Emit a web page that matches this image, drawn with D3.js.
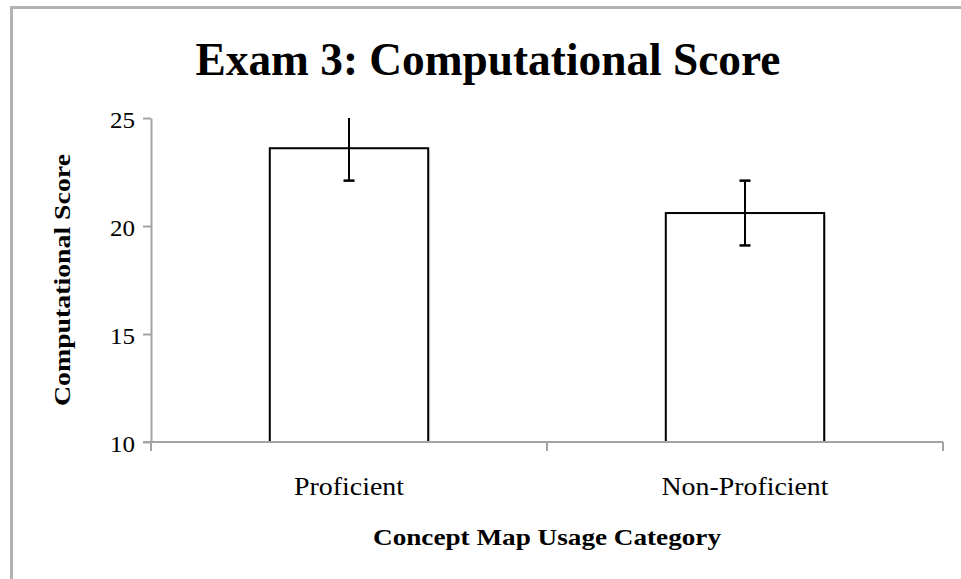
<!DOCTYPE html>
<html lang="en">
<head>
    <meta charset="UTF-8">
    <title>Exam 3: Computational Score</title>
    <script src="https://d3js.org/d3.v7.min.js"></script>
    <style>
        body { margin: 0; background: #fff; }
        svg { display: block; font-family: "Liberation Serif", "DejaVu Serif", serif; }
        .axis path, .axis line { stroke: #a3a3a3; stroke-width: 2px; }
        .axis text { fill: #000; font-size: 23px; font-family: "Liberation Serif", serif; }
        .title { font-size: 46px; font-weight: bold; text-anchor: middle; }
        .axis-label { font-size: 24px; font-weight: bold; text-anchor: middle; }
        .cat-label { font-size: 26px; text-anchor: middle; }
    </style>
</head>
<body>
<svg id="chart" width="961" height="579"></svg>
<script>
    // Data
    const categories = ["Proficient", "Non-Proficient"];
    const means = [23.6, 20.6];
    const errors = [1.5, 1.5];
    const yTicks = [10, 15, 20, 25];

    const svg = d3.select("#chart");
    const margin = { top: 118, right: 18, bottom: 137, left: 151 };
    const width = 961 - margin.left - margin.right;
    const height = 579 - margin.top - margin.bottom;

    // Outer frame
    svg.append("path")
        .attr("d", "M11.5,600 V7.5 H970")
        .attr("fill", "none")
        .attr("stroke", "#b3b3b3")
        .attr("stroke-width", 3);

    const x = d3.scaleBand()
        .domain(categories)
        .range([0, width])
        .paddingInner(0.6)
        .paddingOuter(0.3);

    const y = d3.scaleLinear()
        .domain([10, 25])
        .range([height, 0]);

    const g = svg.append("g")
        .attr("transform", `translate(${margin.left},${margin.top})`);

    svg.append("defs").append("clipPath")
        .attr("id", "plot-clip")
        .append("rect")
        .attr("x", -20).attr("y", 0)
        .attr("width", width + 40).attr("height", height);

    // Title
    svg.append("text")
        .attr("class", "title")
        .attr("x", 488)
        .attr("y", 75)
        .attr("textLength", 585)
        .attr("lengthAdjust", "spacingAndGlyphs")
        .text("Exam 3: Computational Score");

    // Y axis
    const yAxis = g.append("g")
        .attr("class", "axis")
        .call(d3.axisLeft(y).tickValues(yTicks).tickSize(8).tickPadding(8).tickSizeOuter(0));
    yAxis.attr("font-family", null).attr("font-size", null);
    yAxis.selectAll("text")
        .attr("dy", "0.4em")
        .attr("textLength", 25)
        .attr("lengthAdjust", "spacingAndGlyphs");

    // X axis with category boundary ticks
    const xAxis = g.append("g")
        .attr("class", "axis")
        .attr("transform", `translate(0,${height})`);
    xAxis.append("line")
        .attr("x1", -8).attr("x2", width);
    const step = x.step();
    const bounds = [0].concat(categories.map((c, i) => x(c) + x.bandwidth() / 2 + step / 2));
    xAxis.selectAll(".xtick")
        .data(bounds)
        .enter().append("line")
        .attr("class", "xtick")
        .attr("x1", d => d).attr("x2", d => d)
        .attr("y1", 0).attr("y2", 9);

    // Bars (with a light shadow)
    g.selectAll(".shadow")
        .data(categories)
        .enter().append("rect")
        .attr("x", d => x(d) + 2)
        .attr("y", (d, i) => y(means[i]) + 2)
        .attr("width", x.bandwidth())
        .attr("height", (d, i) => height - y(means[i]) - 2)
        .attr("fill", "#e6e6e6");

    g.selectAll(".bar")
        .data(categories)
        .enter().append("rect")
        .attr("class", "bar")
        .attr("x", d => x(d))
        .attr("y", (d, i) => y(means[i]))
        .attr("width", x.bandwidth())
        .attr("height", (d, i) => height - y(means[i]))
        .attr("fill", "#fff")
        .attr("stroke", "#000")
        .attr("stroke-width", 2);

    // Redraw the axis line over the bar bottoms
    g.append("line")
        .attr("x1", 0).attr("x2", width)
        .attr("y1", height).attr("y2", height)
        .attr("stroke", "#a3a3a3").attr("stroke-width", 2);

    // Error bars
    const err = g.append("g").attr("clip-path", "url(#plot-clip)");
    categories.forEach((c, i) => {
        const cx = x(c) + x.bandwidth() / 2;
        const lo = y(means[i] - errors[i]);
        const hi = y(means[i] + errors[i]);
        err.append("line")
            .attr("x1", cx).attr("x2", cx).attr("y1", lo).attr("y2", hi)
            .attr("stroke", "#000").attr("stroke-width", 2);
        [lo, hi].forEach(v => {
            err.append("line")
                .attr("x1", cx - 5.5).attr("x2", cx + 5.5).attr("y1", v).attr("y2", v)
                .attr("stroke", "#000").attr("stroke-width", 2.5);
        });
    });

    // Category labels
    g.selectAll(".cat-label")
        .data(categories)
        .enter().append("text")
        .attr("class", "cat-label")
        .attr("x", d => x(d) + x.bandwidth() / 2)
        .attr("y", height + 53)
        .attr("textLength", (d, i) => [110, 167][i])
        .attr("lengthAdjust", "spacingAndGlyphs")
        .text(d => d);

    // Axis titles
    g.append("text")
        .attr("class", "axis-label")
        .attr("x", width / 2)
        .attr("y", height + 103)
        .attr("textLength", 348)
        .attr("lengthAdjust", "spacingAndGlyphs")
        .text("Concept Map Usage Category");

    g.append("text")
        .attr("class", "axis-label")
        .attr("transform", "rotate(-90)")
        .attr("x", -(280 - margin.top))
        .attr("y", -81)
        .attr("textLength", 252)
        .attr("lengthAdjust", "spacingAndGlyphs")
        .text("Computational Score");
</script>
</body>
</html>
